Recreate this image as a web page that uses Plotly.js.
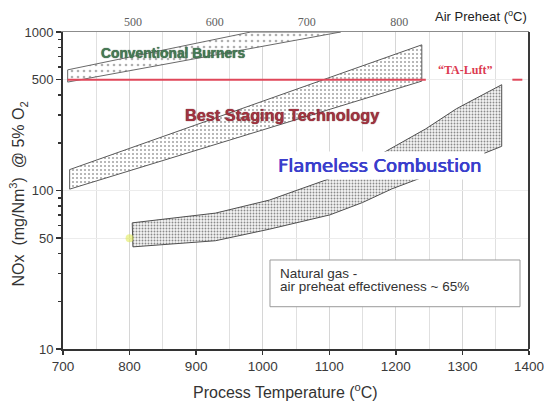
<!DOCTYPE html>
<html>
<head>
<meta charset="utf-8">
<script src="https://cdn.plot.ly/plotly-3.0.1.min.js"></script>
<style>html,body{margin:0;padding:0;background:#fff;}#chart{width:544px;height:407px;}</style>
</head>
<body>
<div id="chart"></div>
<script>
// Process temperature ticks (bottom axis)
const processTicks = [700, 800, 900, 1000, 1100, 1200, 1300, 1400];
// Air preheat labels (top axis) and the process temperature they sit at
const preheatLabels = ['500', '600', '700', '800'];
const preheatAtProcessTemp = [805, 928, 1066, 1205];
// NOx axis ticks
const noxTicks = [10, 50, 100, 500, 1000];

// Conventional burners band (closed polygon, clipped at 1000)
const convT   = [707, 1117, 982, 707, 707];
const convNOx = [483, 1000, 1000, 577, 483];

// Best staging technology band
const stagT   = [710, 1239, 1239, 710, 710];
const stagNOx = [102, 490, 830, 135.5, 102];

// Flameless combustion band: lower edge left->right, upper edge right->left
const flamLowerT   = [805, 870, 929, 1010, 1101, 1150, 1194, 1280, 1359];
const flamLowerNOx = [44.1, 46, 48.2, 57, 70.2, 84, 102.4, 140, 190];
const flamUpperT   = [1359, 1291, 1245, 1196, 1150, 1101, 1010, 929, 860, 804];
const flamUpperNOx = [465, 328, 245, 187, 146, 119, 87, 72, 66.5, 62.5];

// TA-Luft limit
const taLuftT   = [707, 1245, null, 1375, 1390];
const taLuftNOx = [500, 500, null, 500, 500];

// small yellow mark at the left end of the flameless band
const markT = [800];
const markNOx = [50];

const flamT = flamLowerT.concat(flamUpperT, [flamLowerT[0]]);
const flamNOx = flamLowerNOx.concat(flamUpperNOx, [flamLowerNOx[0]]);

const traces = [
  {x: convT, y: convNOx, mode: 'lines', fill: 'toself', fillcolor: '#ffffff',
   fillpattern: {shape: '.', fgcolor: '#b0b0b0', bgcolor: '#ffffff', size: 6, solidity: 0.15},
   line: {color: '#6a6a6a', width: 1}, hoverinfo: 'skip', showlegend: false},
  {x: stagT, y: stagNOx, mode: 'lines', fill: 'toself', fillcolor: '#ffffff',
   fillpattern: {shape: '.', fgcolor: '#a0a0a0', bgcolor: '#ffffff', size: 4, solidity: 0.2},
   line: {color: '#5a5a5a', width: 1}, hoverinfo: 'skip', showlegend: false},
  {x: flamT, y: flamNOx, mode: 'lines', fill: 'toself', fillcolor: '#ffffff',
   fillpattern: {shape: '.', fgcolor: '#8a8a8a', bgcolor: '#f4f4f4', size: 3, solidity: 0.3},
   line: {color: '#505050', width: 1}, hoverinfo: 'skip', showlegend: false},
  {x: taLuftT, y: taLuftNOx, mode: 'lines', line: {color: '#e0475a', width: 2},
   connectgaps: false, hoverinfo: 'skip', showlegend: false},
  {x: markT, y: markNOx, mode: 'markers', marker: {color: 'rgba(225,235,90,0.6)', size: 8},
   hoverinfo: 'skip', showlegend: false},
  {x: [700], y: [10], xaxis: 'x2', yaxis: 'y', mode: 'markers', marker: {opacity: 0},
   hoverinfo: 'skip', showlegend: false}
];

const sans = 'Liberation Sans, Arial, sans-serif';
const layout = {
  width: 544, height: 407,
  margin: {l: 63, r: 15, t: 32, b: 58, pad: 0},
  paper_bgcolor: '#ffffff', plot_bgcolor: '#ffffff',
  showlegend: false,
  xaxis: {
    range: [700, 1400], tickmode: 'array', tickvals: processTicks,
    ticktext: processTicks.map(String), ticklabeloverflow: 'allow',
    showgrid: true, gridcolor: '#d6d6d6', gridwidth: 1,
    minor: {dtick: 50, tick0: 700, showgrid: true, gridcolor: '#e0e0e0', gridwidth: 1, ticks: ''},
    showline: true, linecolor: '#333', linewidth: 2,
    ticks: 'outside', ticklen: 4, tickcolor: '#333', tickwidth: 1.5,
    tickfont: {family: sans, size: 13.5, color: '#3a3a3a'},
    zeroline: false, fixedrange: true
  },
  xaxis2: {
    overlaying: 'x', side: 'top', anchor: 'y', range: [700, 1400],
    tickmode: 'array', tickvals: preheatAtProcessTemp, ticktext: preheatLabels,
    showgrid: false, showline: true, linecolor: '#8c8c8c', linewidth: 1.5, ticks: '',
    tickfont: {family: 'Liberation Serif, Times New Roman, serif', size: 12, color: '#606060'},
    zeroline: false, fixedrange: true
  },
  yaxis: {
    type: 'log', range: [1, 3], tickmode: 'array', tickvals: noxTicks,
    ticktext: noxTicks.map(String),
    showgrid: true, gridcolor: '#ececec', gridwidth: 1,
    minor: {tickvals: [20, 30, 40, 60, 70, 80, 90, 200, 300, 400, 600, 700, 800, 900],
            ticks: 'outside', ticklen: 3, tickcolor: '#333', showgrid: false},
    showline: true, linecolor: '#333', linewidth: 2,
    ticks: 'outside', ticklen: 5, tickcolor: '#333', tickwidth: 1.5,
    tickfont: {family: sans, size: 13, color: '#3a3a3a'},
    zeroline: false, fixedrange: true
  },
  shapes: [
    {type: 'line', xref: 'paper', yref: 'paper', x0: 1, x1: 1, y0: 0, y1: 1,
     line: {color: '#3a3a3a', width: 2}},
    {type: 'rect', xref: 'paper', yref: 'paper', x0: 0.4442, x1: 0.9807, y0: 0.1334, y1: 0.2808,
     line: {color: '#9a9a9a', width: 1}, fillcolor: '#ffffff', layer: 'above'}
  ],
  annotations: [
    {text: 'Conventional Burners', xref: 'paper', yref: 'paper', x: 0.235, y: 0.9306,
     showarrow: false, xanchor: 'center', yanchor: 'middle',
     font: {family: sans, size: 13.8,
            color: '#467a55', weight: 'bold', shadow: '0px 0px 1px #1d3324'}},
    {text: 'Best Staging Technology', xref: 'paper', yref: 'paper', x: 0.471, y: 0.738,
     showarrow: false, xanchor: 'center', yanchor: 'middle',
     font: {family: sans, size: 16.3,
            color: '#a3323f', weight: 'bold', shadow: '0px 0px 1px #4a1018'}},
    {text: 'Flameless Combustion', xref: 'paper', yref: 'paper', x: 0.679, y: 0.5804,
     showarrow: false, xanchor: 'center', yanchor: 'middle', bgcolor: '#ffffff', borderpad: 3,
     font: {family: 'DejaVu Sans, sans-serif', size: 18, color: '#3a3ecc',
            shadow: '0.5px 0px 0px #3a3ecc, -0.3px 0px 0px #3a3ecc'}},
    {text: '\u201CTA-Luft\u201D', xref: 'paper', yref: 'paper', x: 0.8627, y: 0.880,
     showarrow: false, xanchor: 'center', yanchor: 'middle',
     font: {family: 'Liberation Serif, Times New Roman, serif', size: 12, color: '#dc3a50', weight: 'bold'}},
    {text: 'Natural gas -', xref: 'paper', yref: 'paper', x: 0.462, y: 0.2388,
     showarrow: false, xanchor: 'left', yanchor: 'middle',
     font: {family: sans, size: 13.5, color: '#333'}},
    {text: 'air preheat effectiveness ~ 65%', xref: 'paper', yref: 'paper', x: 0.462, y: 0.1965,
     showarrow: false, xanchor: 'left', yanchor: 'middle',
     font: {family: sans, size: 13.5, color: '#333'}},
    {text: 'Air Preheat (<sup>o</sup>C)', xref: 'paper', yref: 'paper', x: 0.896, y: 1.0517,
     showarrow: false, xanchor: 'center', yanchor: 'middle',
     font: {family: sans, size: 13, color: '#222'}},
    {text: 'Process Temperature (<sup>o</sup>C)', xref: 'paper', yref: 'paper', x: 0.477, y: -0.1325,
     showarrow: false, xanchor: 'center', yanchor: 'middle',
     font: {family: sans, size: 16, color: '#333'}},
    {text: 'NOx\u00a0\u00a0(mg/Nm<sup>3</sup>)\u00a0\u00a0@ 5% O<sub>2</sub>', xref: 'paper', yref: 'paper',
     x: -0.0966, y: 0.4905, textangle: -90,
     showarrow: false, xanchor: 'center', yanchor: 'middle',
     font: {family: sans, size: 16, color: '#333'}}
  ]
};

Plotly.newPlot('chart', traces, layout, {staticPlot: true, displayModeBar: false});
</script>
</body>
</html>
